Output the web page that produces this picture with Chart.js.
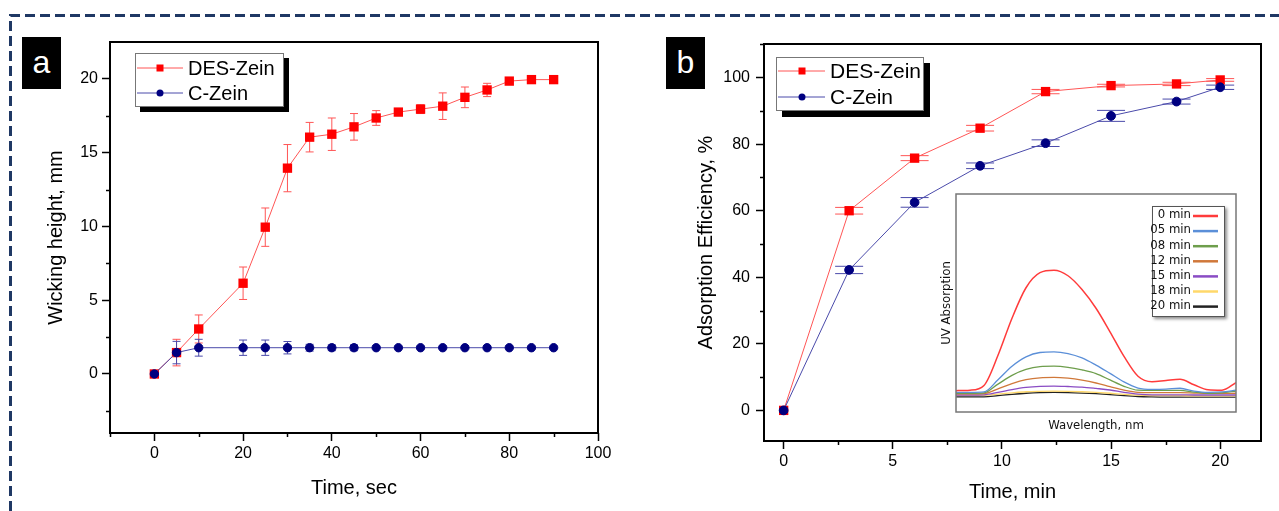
<!DOCTYPE html>
<html>
<head>
<meta charset="utf-8">
<script src="https://cdn.jsdelivr.net/npm/chart.js@4.4.0/dist/chart.umd.min.js"></script>
<style>
  html, body { margin: 0; padding: 0; background: #fff; }
  #page { position: relative; width: 1279px; height: 511px; overflow: hidden; font-family: 'Liberation Sans', Arial, sans-serif; }
  canvas, svg { position: absolute; }
  .tag { position: absolute; width: 39px; height: 52px; background: #000; color: #fff; font-size: 32px; line-height: 50px; text-align: center; }
</style>
</head>
<body>
<div id="page">
  <svg width="1279" height="511" style="left:0;top:0">
    <path d="M10.5 511 V15.5 H1279" fill="none" stroke="#1f3864" stroke-width="3" stroke-dasharray="10 5"/>
  </svg>
  <div class="tag" style="left:22px;top:37px">a</div>
  <div class="tag" style="left:666px;top:37px">b</div>
  <canvas id="chartA" width="640" height="511" style="left:0;top:0"></canvas>
  <canvas id="chartB" width="639" height="511" style="left:640px;top:0"></canvas>
  <canvas id="chartInset" width="306" height="250" style="left:936px;top:188px"></canvas>
</div>
<script>
// ── Panel a: wicking height vs time ─────────────────────────────
const A_TIME    = [0, 5, 10, 20, 25, 30, 35, 40, 45, 50, 55, 60, 65, 70, 75, 80, 85, 90];
const A_DES     = [0, 1.45, 3.05, 6.15, 9.95, 13.95, 16.05, 16.25, 16.75, 17.35, 17.75, 17.95, 18.15, 18.75, 19.25, 19.85, 19.95, 19.95];
const A_DES_ERR = [0, 0.9, 0.95, 1.1, 1.3, 1.6, 1.0, 1.1, 0.9, 0.5, 0.15, 0.3, 0.9, 0.7, 0.45, 0.1, 0.1, 0.1];
const A_CZ      = [0, 1.45, 1.78, 1.78, 1.78, 1.78, 1.78, 1.78, 1.78, 1.78, 1.78, 1.78, 1.78, 1.78, 1.78, 1.78, 1.78, 1.78];
const A_CZ_ERR  = [0, 0.76, 0.57, 0.52, 0.52, 0.42, 0.23, 0.2, 0.2, 0, 0, 0, 0, 0, 0, 0, 0, 0];
const A_X_TICKS = [0, 20, 40, 60, 80, 100];
const A_X_MINOR = [-10, 10, 30, 50, 70, 90];
const A_Y_TICKS = [0, 5, 10, 15, 20];
const A_Y_MINOR = [-2.5, 2.5, 7.5, 12.5, 17.5];

// ── Panel b: adsorption efficiency vs time ─────────────────────
const B_TIME    = [0, 3, 6, 9, 12, 15, 18, 20];
const B_DES     = [0, 60, 75.8, 84.8, 95.8, 97.6, 98.1, 99.3];
const B_DES_ERR = [0, 1.0, 0.75, 0.85, 0.65, 0.4, 0.5, 0.4];
const B_CZ      = [0, 42.2, 62.5, 73.5, 80.3, 88.5, 92.8, 97.1];
const B_CZ_ERR  = [0, 1.1, 1.45, 0.85, 1.0, 1.65, 0.75, 0.65];
const B_X_TICKS = [0, 5, 10, 15, 20];
const B_X_MINOR = [2.5, 7.5, 12.5, 17.5];
const B_Y_TICKS = [0, 20, 40, 60, 80, 100];
const B_Y_MINOR = [10, 30, 50, 70, 90, 110];

// ── Inset: UV absorption spectra (arbitrary wavelength scale) ──
const I_WAVE   = [0, 5, 10, 15, 20, 25, 30, 35, 40, 45, 50, 55, 60, 65, 70, 75, 80, 85, 90, 95, 100];
const I_LABELS = ['0 min', '05 min', '08 min', '12 min', '15 min', '18 min', '20 min'];
const I_M00 = [9.8, 10.0, 12.2, 26.0, 43.0, 57.0, 63.9, 65.0, 62.5, 56.2, 47.6, 36.8, 25.5, 16.4, 13.9, 14.5, 15.0, 12.5, 10.2, 10.0, 13.5];
const I_M05 = [9.0, 9.0, 9.2, 14.8, 21.0, 25.3, 27.3, 27.6, 26.8, 24.8, 21.5, 17.7, 13.8, 11.0, 10.4, 10.5, 10.9, 9.6, 9.0, 9.2, 10.0];
const I_M08 = [8.6, 8.6, 8.8, 12.8, 16.8, 19.5, 20.8, 21.0, 20.5, 19.3, 17.6, 14.7, 11.8, 10.0, 9.9, 9.9, 9.9, 9.1, 8.6, 8.8, 9.6];
const I_M12 = [8.3, 8.3, 8.4, 10.6, 13.0, 14.8, 15.7, 15.9, 15.5, 14.6, 13.3, 11.6, 10.0, 9.0, 8.9, 8.9, 8.9, 8.7, 8.5, 8.5, 8.6];
const I_M15 = [7.8, 7.8, 7.9, 9.0, 10.3, 11.3, 11.8, 11.9, 11.7, 11.4, 10.8, 10.1, 9.0, 8.2, 7.9, 7.9, 7.9, 7.8, 7.8, 7.8, 7.8];
const I_M18 = [7.6, 7.6, 7.6, 8.2, 8.8, 9.3, 9.5, 9.6, 9.5, 9.3, 9.0, 8.6, 8.1, 7.7, 7.5, 7.5, 7.5, 7.4, 7.4, 7.4, 7.4];
const I_M20 = [6.9, 6.9, 6.9, 7.5, 8.1, 8.6, 8.9, 9.0, 8.9, 8.7, 8.4, 8.0, 7.5, 7.1, 6.9, 6.8, 6.8, 6.8, 6.8, 6.8, 6.8];
const I_SERIES = [I_M00, I_M05, I_M08, I_M12, I_M15, I_M18, I_M20];
const I_COLORS = ['#ff3b3b', '#5b8fd8', '#6e9e4c', '#d0783a', '#8a4cc4', '#ffd86a', '#222222'];

Chart.defaults.font.family = "'Liberation Sans', Arial, sans-serif";
Chart.defaults.color = '#000';

const RED = '#ff0000', RED_LINE = '#ff5555';
const NAVY = '#000080', NAVY_LINE = '#4a4aaa';

const pts = (xs, ys) => xs.map((x, i) => ({ x, y: ys[i] }));

// Vertical error bars with caps, drawn under the series
const errorBars = {
    id: 'errorBars',
    beforeDatasetsDraw(chart, args, opts) {
        const { ctx, scales: { x, y } } = chart;
        chart.data.datasets.forEach(ds => {
            if (!ds.errors) return;
            ctx.save();
            ctx.strokeStyle = ds.errorColor;
            ctx.lineWidth = 1;
            ds.data.forEach((p, j) => {
                const e = ds.errors[j];
                if (!e) return;
                const px = x.getPixelForValue(p.x);
                const top = y.getPixelForValue(p.y + e);
                const bot = y.getPixelForValue(p.y - e);
                const w = opts.cap;
                ctx.beginPath();
                ctx.moveTo(px, top); ctx.lineTo(px, bot);
                ctx.moveTo(px - w, top); ctx.lineTo(px + w, top);
                ctx.moveTo(px - w, bot); ctx.lineTo(px + w, bot);
                ctx.stroke();
            });
            ctx.restore();
        });
    },
};

// Box frame around the plot + short minor ticks
const frame = {
    id: 'frame',
    afterDraw(chart, args, o) {
        const { ctx, chartArea: a, scales: { x, y } } = chart;
        ctx.save();
        ctx.strokeStyle = o.color;
        ctx.lineWidth = o.width;
        ctx.strokeRect(a.left, a.top, a.right - a.left, a.bottom - a.top);
        ctx.lineWidth = 1.5;
        (o.minorX || []).forEach(v => {
            const px = Math.round(x.getPixelForValue(v)) + 0.5;
            ctx.beginPath(); ctx.moveTo(px, a.bottom); ctx.lineTo(px, a.bottom + o.minorLen); ctx.stroke();
        });
        (o.minorY || []).forEach(v => {
            const py = Math.round(y.getPixelForValue(v)) + 0.5;
            ctx.beginPath(); ctx.moveTo(a.left, py); ctx.lineTo(a.left - o.minorLen, py); ctx.stroke();
        });
        ctx.restore();
    },
};

function drawMarker(ctx, style, r, x, y, color) {
    ctx.fillStyle = color;
    if (style === 'rect') {
        ctx.fillRect(x - r, y - r, 2 * r, 2 * r);
    } else {
        ctx.beginPath(); ctx.arc(x, y, r, 0, Math.PI * 2); ctx.fill();
    }
}

// Origin-style legend box with a hard black shadow
const boxLegend = {
    id: 'boxLegend',
    afterDraw(chart, args, o) {
        const { ctx } = chart;
        const [l, t, w, h] = o.box;
        ctx.save();
        ctx.fillStyle = '#000';
        ctx.fillRect(l + o.shadow, t + o.shadow, w, h);
        ctx.fillStyle = '#fff';
        ctx.fillRect(l, t, w, h);
        ctx.strokeStyle = '#777';
        ctx.lineWidth = 1;
        ctx.strokeRect(l + 0.5, t + 0.5, w - 1, h - 1);
        ctx.font = `${o.fontSize}px 'Liberation Sans', Arial, sans-serif`;
        ctx.textBaseline = 'middle';
        chart.data.datasets.forEach((ds, i) => {
            const ry = o.rows[i];
            ctx.strokeStyle = ds.borderColor;
            ctx.lineWidth = 1;
            ctx.beginPath(); ctx.moveTo(o.lineX[0], ry); ctx.lineTo(o.lineX[1], ry); ctx.stroke();
            drawMarker(ctx, ds.pointStyle, 3.5, o.markX, ry, ds.pointBackgroundColor);
            ctx.fillStyle = '#000';
            ctx.fillText(ds.label, o.textX, ry + 1);
        });
        ctx.restore();
    },
};

function mainScales(cfg) {
    return {
        x: {
            type: 'linear', min: cfg.xMin, max: cfg.xMax,
            afterBuildTicks: s => { s.ticks = cfg.xTicks.map(v => ({ value: v })); },
            afterFit: s => { s.height = cfg.xHeight; },
            ticks: { font: { size: 16 }, color: '#000', padding: 3, maxRotation: 0 },
            grid: { drawOnChartArea: false, tickLength: 8, tickWidth: 1.5, tickColor: '#000' },
            border: { display: false },
            title: { display: true, text: cfg.xTitle, font: { size: 20 }, color: '#000', padding: { top: 0, bottom: cfg.xTitlePad } },
        },
        y: {
            type: 'linear', min: cfg.yMin, max: cfg.yMax,
            afterBuildTicks: s => { s.ticks = cfg.yTicks.map(v => ({ value: v })); },
            afterFit: s => { s.width = cfg.yWidth; },
            ticks: { font: { size: 16 }, color: '#000', padding: cfg.yPad },
            grid: { drawOnChartArea: false, tickLength: 8, tickWidth: 1.5, tickColor: '#000' },
            border: { display: false },
            title: { display: true, text: cfg.yTitle, font: { size: 20 }, color: '#000', padding: { top: cfg.yTitlePad, bottom: 0 } },
        },
    };
}

function seriesSets(xs, des, desErr, cz, czErr, size) {
    return [
        {
            label: 'DES-Zein', data: pts(xs, des), errors: desErr, errorColor: RED_LINE,
            borderColor: RED_LINE, borderWidth: 1, pointStyle: 'rect', pointRadius: size.rect,
            pointBackgroundColor: RED, pointBorderColor: RED, pointBorderWidth: 0, order: 2,
        },
        {
            label: 'C-Zein', data: pts(xs, cz), errors: czErr, errorColor: NAVY_LINE,
            borderColor: NAVY_LINE, borderWidth: 1, pointStyle: 'circle', pointRadius: size.circle,
            pointBackgroundColor: NAVY, pointBorderColor: NAVY, pointBorderWidth: 1, order: 1,
        },
    ];
}

new Chart(document.getElementById('chartA'), {
    type: 'line',
    data: { datasets: seriesSets(A_TIME, A_DES, A_DES_ERR, A_CZ, A_CZ_ERR, { rect: 6.6, circle: 4.2 }) },
    options: {
        responsive: false, animation: false,
        layout: { padding: { top: 42, right: 42, left: 0, bottom: 0 } },
        plugins: {
            legend: { display: false }, tooltip: { enabled: false },
            errorBars: { cap: 4 },
            frame: { color: '#000', width: 2, minorX: A_X_MINOR, minorY: A_Y_MINOR, minorLen: 4 },
            boxLegend: { box: [135, 53, 149, 54], shadow: 5, rows: [68, 93], lineX: [137, 183], markX: 160, textX: 188, fontSize: 20 },
        },
        scales: mainScales({
            xMin: -10, xMax: 100, xTicks: A_X_TICKS, xHeight: 78, xTitle: 'Time, sec', xTitlePad: 11,
            yMin: -4, yMax: 22.5, yTicks: A_Y_TICKS, yWidth: 110, yPad: 4, yTitle: 'Wicking height, mm', yTitlePad: 44,
        }),
    },
    plugins: [errorBars, frame, boxLegend],
});

new Chart(document.getElementById('chartB'), {
    type: 'line',
    data: { datasets: seriesSets(B_TIME, B_DES, B_DES_ERR, B_CZ, B_CZ_ERR, { rect: 6.6, circle: 4.4 }) },
    options: {
        responsive: false, animation: false,
        layout: { padding: { top: 44, right: 18, left: 0, bottom: 0 } },
        plugins: {
            legend: { display: false }, tooltip: { enabled: false },
            errorBars: { cap: 14 },
            frame: { color: '#000', width: 2, minorX: B_X_MINOR, minorY: B_Y_MINOR, minorLen: 4 },
            boxLegend: { box: [136, 57, 148, 54], shadow: 6, rows: [71, 97], lineX: [138, 185], markX: 162, textX: 190, fontSize: 21 },
        },
        scales: mainScales({
            xMin: -0.9, xMax: 21.87, xTicks: B_X_TICKS, xHeight: 70, xTitle: 'Time, min', xTitlePad: 7,
            yMin: -9.2, yMax: 110.1, yTicks: B_Y_TICKS, yWidth: 124, yPad: 6, yTitle: 'Adsorption Efficiency, %', yTitlePad: 54,
        }),
    },
    plugins: [errorBars, frame, boxLegend],
});

// ── Inset ───────────────────────────────────────────────────────
const INSET_FONT = "'DejaVu Sans Condensed', 'DejaVu Sans', sans-serif";

const insetBg = {
    id: 'insetBg',
    beforeDraw(chart) {
        const { ctx, chartArea: a } = chart;
        ctx.save();
        ctx.fillStyle = '#fff';
        ctx.fillRect(a.left, a.top, a.right - a.left, a.bottom - a.top);
        ctx.restore();
    },
};

const insetLegend = {
    id: 'insetLegend',
    afterDraw(chart, args, o) {
        const { ctx } = chart;
        const [l, t, w, h] = o.box;
        ctx.save();
        ctx.shadowColor = 'rgba(0,0,0,0.45)';
        ctx.shadowBlur = 3;
        ctx.shadowOffsetX = 2;
        ctx.shadowOffsetY = 2;
        ctx.fillStyle = '#fff';
        ctx.fillRect(l, t, w, h);
        ctx.restore();
        ctx.save();
        ctx.strokeStyle = '#555';
        ctx.lineWidth = 1;
        ctx.strokeRect(l + 0.5, t + 0.5, w - 1, h - 1);
        ctx.font = `13px ${INSET_FONT}`;
        ctx.textBaseline = 'middle';
        ctx.textAlign = 'right';
        chart.data.datasets.forEach((ds, i) => {
            const ry = o.top + i * o.step;
            ctx.fillStyle = '#111';
            ctx.fillText(ds.label, o.textRight, ry);
            ctx.strokeStyle = ds.borderColor;
            ctx.lineWidth = 2.5;
            ctx.beginPath(); ctx.moveTo(o.lineX[0], ry + 1); ctx.lineTo(o.lineX[1], ry + 1); ctx.stroke();
        });
        ctx.restore();
    },
};

new Chart(document.getElementById('chartInset'), {
    type: 'line',
    data: {
        datasets: I_SERIES.map((s, i) => ({
            label: I_LABELS[i], data: pts(I_WAVE, s),
            borderColor: I_COLORS[i], borderWidth: i === 0 ? 1.5 : 1.3,
            pointRadius: 0, cubicInterpolationMode: 'monotone',
        })),
    },
    options: {
        responsive: false, animation: false,
        layout: { padding: { top: 6, right: 6, left: 0, bottom: 0 } },
        plugins: {
            legend: { display: false }, tooltip: { enabled: false },
            frame: { color: '#777', width: 1.5 },
            insetLegend: { box: [216, 18, 73, 111], top: 27, step: 15.1, textRight: 255, lineX: [257, 282] },
        },
        scales: {
            x: {
                type: 'linear', min: 0, max: 100,
                afterFit: s => { s.height = 26; },
                ticks: { display: false }, grid: { display: false }, border: { display: false },
                title: { display: true, text: 'Wavelength, nm', font: { size: 13, family: INSET_FONT }, color: '#111', padding: { top: 0, bottom: 5 } },
            },
            y: {
                type: 'linear', min: 0, max: 100,
                afterFit: s => { s.width = 20; },
                ticks: { display: false }, grid: { display: false }, border: { display: false },
                title: { display: true, text: 'UV Absorption', font: { size: 13, family: INSET_FONT }, color: '#111', padding: { top: 3, bottom: 0 } },
            },
        },
    },
    plugins: [insetBg, frame, insetLegend],
});
</script>
</body>
</html>
